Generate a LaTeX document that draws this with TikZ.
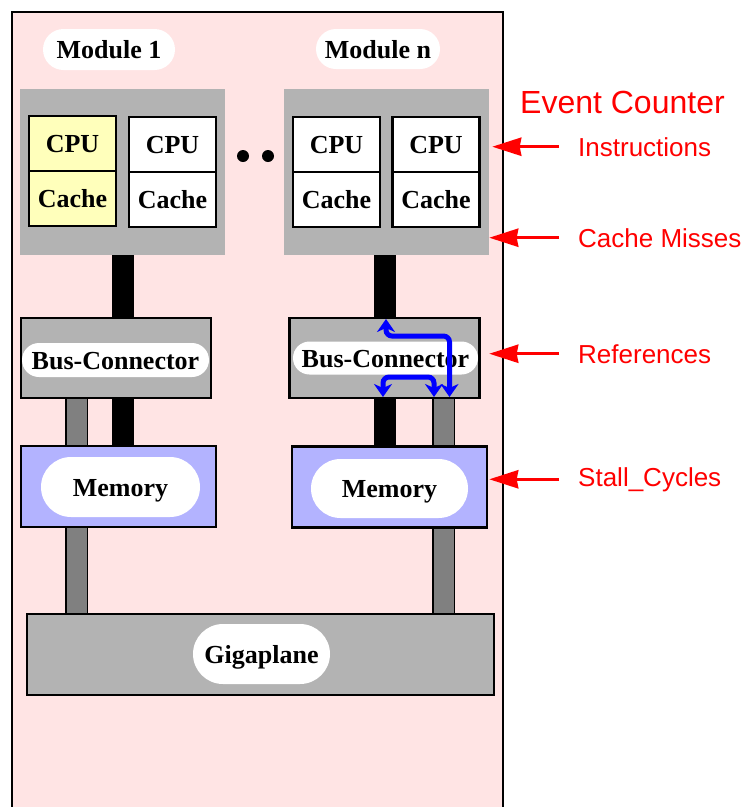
\documentclass[tikz,border=0pt]{standalone}
\usepackage{fontspec}
\setmainfont{Liberation Serif}
\newfontfamily\labelfont{Liberation Sans}
\usetikzlibrary{positioning,shapes.misc,arrows.meta}
\definecolor{pinkbg}{RGB}{255,228,228}
\definecolor{boxgray}{RGB}{179,179,179}
\definecolor{bargray}{RGB}{128,128,128}
\definecolor{cpuyellow}{RGB}{255,255,187}
\definecolor{memblue}{RGB}{179,179,255}

\begin{document}
\begin{tikzpicture}[x=1pt,y=-1pt,
  txt/.style={font=\fontsize{26}{30}\selectfont\bfseries,text height=18pt,text depth=0pt},
  pill/.style={txt,rounded rectangle,fill=white,inner sep=0pt},
  cpubox/.style={txt,draw,line width=2.5pt,fill=white,minimum width=87pt,minimum height=55pt,inner sep=0pt},
  modbox/.style={fill=boxgray,minimum width=205pt,minimum height=166pt},
  busbox/.style={draw,line width=2.5pt,fill=boxgray,minimum width=190pt,minimum height=80pt},
  membox/.style={draw,line width=2.5pt,fill=memblue,minimum width=195pt,minimum height=81pt},
  blackbar/.style={line width=22pt},
  graybar/.style={draw=black,line width=1.5pt,double=bargray,double distance=20pt},
  evlabel/.style={font=\labelfont\fontsize{26}{30}\selectfont,text=red,inner sep=0pt,anchor=base west},
  evarrow/.style={red,line width=3.5pt,-{Stealth[length=29pt,width=18pt,inset=1.5pt]}},
  flow/.style={blue,line width=5pt,rounded corners=6pt,{Stealth[length=13pt,width=18pt,inset=4pt]}-{Stealth[length=13pt,width=18pt,inset=4pt]}}]
  \useasboundingbox (0,0) rectangle (747,807);
  \clip (0,0) rectangle (747,807);
  \draw[line width=2.5pt,fill=pinkbg] (12,12) rectangle (503,830); % machine

  % modules
  \node[modbox] (mod1) at (122.5,172) {};
  \node[modbox] (modn) at (386.5,172) {};
  \node[pill,minimum width=132pt,minimum height=41pt] (lab1) at (109,49.5) {Module 1};
  \node[pill,minimum width=124pt,minimum height=40pt] (labn) at (378,49) {Module n};

  \node[cpubox,fill=cpuyellow] (cpu11) at (72.5,143.5) {CPU};
  \node[cpubox,fill=cpuyellow,below=-2.5pt of cpu11] (cache11) {Cache};
  \node[cpubox] (cpu12) at (172.5,144.5) {CPU};
  \node[cpubox,below=-2.5pt of cpu12] (cache12) {Cache};
  \node[cpubox] (cpun1) at (336.5,144.5) {CPU};
  \node[cpubox,below=-2.5pt of cpun1] (cachen1) {Cache};
  \node[cpubox] (cpun2) at (436,144.5) {CPU};
  \node[cpubox,below=-2.5pt of cpun2] (cachen2) {Cache};

  \node[circle,fill,inner sep=0pt,minimum size=12pt] (dot1) at (243,156) {};
  \node[circle,fill,inner sep=0pt,minimum size=12pt] (dot2) at (268,156) {};

  % bus connectors
  \node[busbox] (bus1) at (116,358) {};
  \node[pill,minimum width=187pt,minimum height=34pt] (buslab1) at (115.5,360) {Bus-Connector};
  \node[busbox] (busn) at (384.5,358) {};
  \node[pill,minimum width=185pt,minimum height=33pt] (buslabn) at (385.5,358) {Bus-Connector};

  % memories
  \node[membox] (mem1) at (118.5,486.5) {};
  \node[pill,minimum width=159pt,minimum height=60pt] (memlab1) at (120.5,487) {Memory};
  \node[membox] (memn) at (389.5,487) {};
  \node[pill,minimum width=157pt,minimum height=59pt] (memlabn) at (389.5,488.5) {Memory};

  % gigaplane
  \node[busbox,minimum width=467pt,minimum height=81pt] (giga) at (260.5,654.5) {};
  \node[pill,minimum width=137pt,minimum height=60pt] (gigalab) at (261.5,654) {Gigaplane};

  % bars
  \draw[blackbar] (mod1.south) -- (mod1.south |- bus1.north);
  \draw[blackbar] (mod1.south |- bus1.south) -- (mod1.south |- mem1.north);
  \draw[blackbar] ([xshift=-1.5pt]modn.south) -- ([xshift=-1.5pt]modn.south |- busn.north);
  \draw[blackbar] ([xshift=-1.5pt]modn.south |- busn.south) -- ([xshift=-1.5pt]modn.south |- memn.north);
  \coordinate (g1) at ([xshift=-39.5pt]bus1.south);
  \coordinate (gn) at ([xshift=59pt]busn.south);
  \draw[graybar] (g1) -- (g1 |- mem1.north);
  \draw[graybar] (g1 |- mem1.south) -- (g1 |- giga.north);
  \draw[graybar] (gn) -- (gn |- memn.north);
  \draw[graybar] (gn |- memn.south) -- (gn |- giga.north);

  % flows in the bus connector
  \begin{scope}[shift={(busn.center)}]
    \draw[flow] (1.5,-39) -- (1.5,-22) -- (65,-22) -- (65,39);
    \draw[flow] (-1.5,39) -- (-1.5,19) -- (49.5,19) -- (49.5,39);
  \end{scope}

  % event counters
  \node[evlabel,font=\labelfont\fontsize{32}{36}\selectfont] (evc) at (520,113) {Event Counter};
  \node[evlabel] (ins) at (578,156) {Instructions};
  \node[evlabel] (miss) at (578,247) {Cache Misses};
  \node[evlabel] (ref) at (578,363) {References};
  \node[evlabel] (stall) at (578,486) {Stall\_Cycles};
  \draw[evarrow] ([xshift=-19pt]ins.west) -- ([xshift=3pt]ins.west -| modn.east);
  \draw[evarrow] ([xshift=-19pt]miss.west) -- (miss.west -| modn.east);
  \draw[evarrow] ([xshift=-19pt]ref.west) -- (ref.west -| modn.east);
  \draw[evarrow] ([xshift=-19pt]stall.west) -- (stall.west -| modn.east);
\end{tikzpicture}
\end{document}
